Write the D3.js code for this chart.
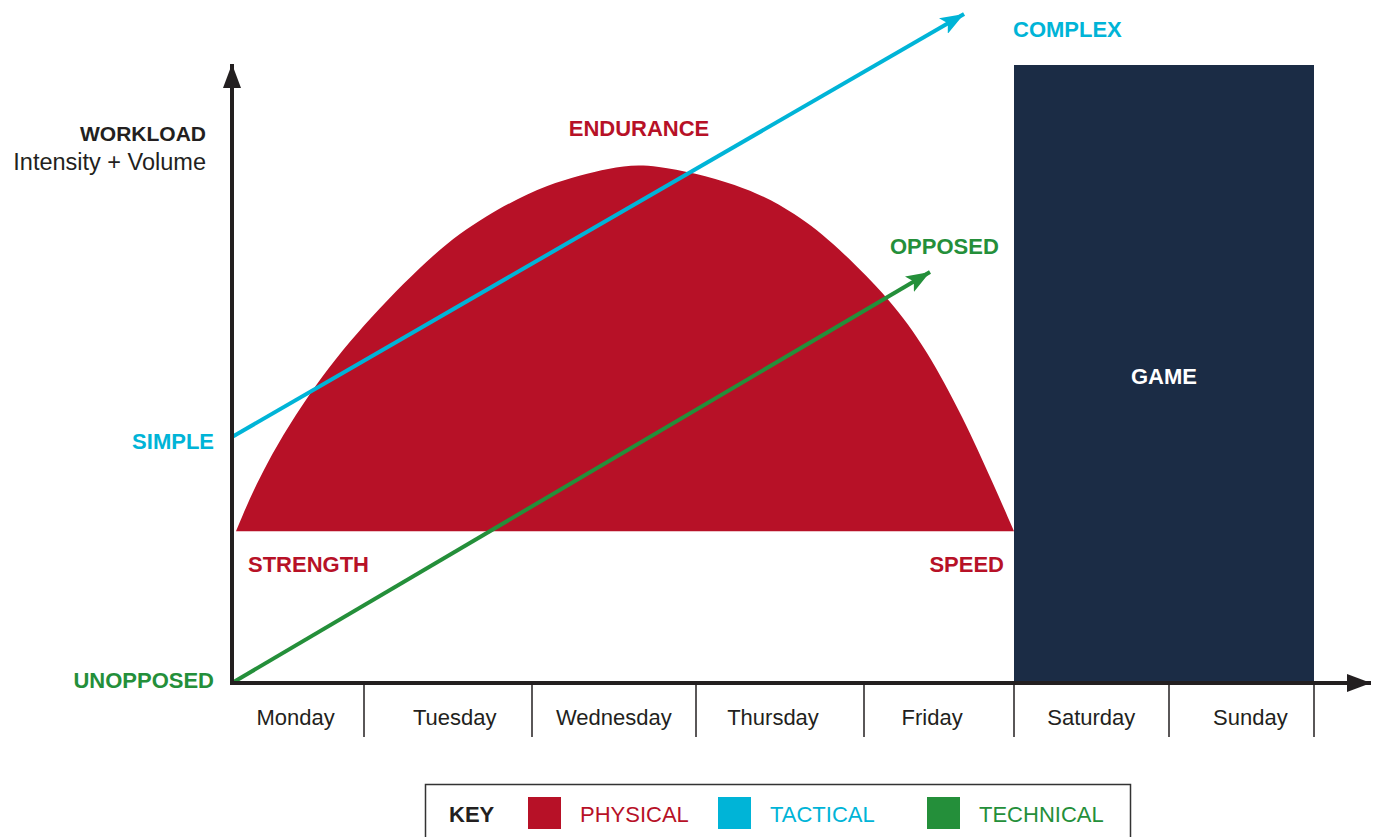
<!DOCTYPE html>
<html>
<head>
<meta charset="utf-8">
<script src="https://cdn.jsdelivr.net/npm/d3@7"></script>
<style>
  body { margin: 0; background: #fff; }
  svg text { font-family: 'Liberation Sans', Arial, sans-serif; }
</style>
</head>
<body>
<div id="chart"></div>
<script>
// days along the x axis
const days = ['Monday', 'Tuesday', 'Wednesday', 'Thursday', 'Friday', 'Saturday', 'Sunday']

// physical workload curve (day position, workload 0-100)
const physicalDay  = [0.03, 0.235, 0.63, 1.036, 1.435, 1.708, 2.091, 2.494, 2.72, 3.262, 3.601, 3.839, 4.173, 4.42, 4.66, 4.86, 5.0]
const physicalLoad = [25.3, 36, 50, 61, 72.2, 77.7, 83.3, 86, 86.7, 83.3, 78.2, 72.8, 64, 55.5, 44.3, 33.3, 25.3]

// tactical line: simple -> complex
const tacticalDay  = [0, 4.667]
const tacticalLoad = [41, 111.5]

// technical line: unopposed -> opposed
const technicalDay  = [0, 4.44]
const technicalLoad = [0, 68.5]

// game block (days 5 to 7)
const gameDay  = [5, 7]
const gameLoad = 103

const legendItems = ['PHYSICAL', 'TACTICAL', 'TECHNICAL']

const RED = '#B71127'
const CYAN = '#00B4D7'
const GREEN = '#248F3A'
const NAVY = '#1B2C45'
const INK = '#231F20'

const svg = d3.select('#chart')
    .append('svg')
    .attr('width', 1376)
    .attr('height', 837)

// day columns are not equally wide in the original
const xScale = d3.scaleLinear()
    .domain(d3.range(0, 8))
    .range([232, 364, 532, 696, 864, 1014, 1169, 1314])
const yScale = d3.scaleLinear().domain([0, 100]).range([683, 83])
// the day names themselves sit on an even grid
const labelScale = d3.scaleBand().domain(days).range([216, 1330])

//arrow markers
const defs = svg.append('defs')
function addMarker(id, color, len, half) {
    defs.append('marker')
        .attr('id', id)
        .attr('markerUnits', 'userSpaceOnUse')
        .attr('viewBox', `0 ${-half} ${len} ${half * 2}`)
        .attr('refX', len)
        .attr('refY', 0)
        .attr('markerWidth', len)
        .attr('markerHeight', half * 2)
        .attr('orient', 'auto')
        .append('path')
        .attr('d', `M0,${-half} L${len},0 L0,${half} L${len * 0.22},0 Z`)
        .attr('fill', color)
}
addMarker('arrowCyan', CYAN, 24, 9)
addMarker('arrowGreen', GREEN, 24, 9)
defs.append('marker')
    .attr('id', 'arrowAxis')
    .attr('markerUnits', 'userSpaceOnUse')
    .attr('viewBox', '0 -10 24 20')
    .attr('refX', 24)
    .attr('refY', 0)
    .attr('markerWidth', 24)
    .attr('markerHeight', 20)
    .attr('orient', 'auto')
    .append('path')
    .attr('d', 'M0,-9 L24,0 L0,9 Z')
    .attr('fill', INK)

//game block
svg.append('rect')
    .attr('x', xScale(gameDay[0]))
    .attr('y', yScale(gameLoad))
    .attr('width', xScale(gameDay[1]) - xScale(gameDay[0]))
    .attr('height', yScale(0) - yScale(gameLoad))
    .attr('fill', NAVY)

svg.append('text')
    .attr('x', (xScale(gameDay[0]) + xScale(gameDay[1])) / 2)
    .attr('y', 384)
    .attr('text-anchor', 'middle')
    .style('font-size', '22px')
    .style('font-weight', 'bold')
    .attr('fill', '#fff')
    .text('GAME')

//physical area (b-spline keeps the dome smooth)
const physical = physicalDay.map((d, i) => ({ day: d, load: physicalLoad[i] }))
const area = d3.area()
    .x(d => xScale(d.day))
    .y0(yScale(physicalLoad[0]))
    .y1(d => yScale(d.load))
    .curve(d3.curveBasis)

svg.append('path')
    .datum(physical)
    .attr('fill', RED)
    .attr('d', area)

//tactical and technical lines
const line = d3.line()
    .x(d => xScale(d[0]))
    .y(d => yScale(d[1]))

svg.append('path')
    .datum(d3.zip(tacticalDay, tacticalLoad))
    .attr('fill', 'none')
    .attr('stroke', CYAN)
    .attr('stroke-width', 4)
    .attr('marker-end', 'url(#arrowCyan)')
    .attr('d', line)

svg.append('path')
    .datum(d3.zip(technicalDay, technicalLoad))
    .attr('fill', 'none')
    .attr('stroke', GREEN)
    .attr('stroke-width', 4)
    .attr('marker-end', 'url(#arrowGreen)')
    .attr('d', line)

//axes
svg.append('line')
    .attr('x1', xScale(0)).attr('y1', yScale(0) + 2)
    .attr('x2', xScale(0)).attr('y2', 64)
    .attr('stroke', INK)
    .attr('stroke-width', 4)
    .attr('marker-end', 'url(#arrowAxis)')

svg.append('line')
    .attr('x1', xScale(0) - 2).attr('y1', yScale(0))
    .attr('x2', 1371).attr('y2', yScale(0))
    .attr('stroke', INK)
    .attr('stroke-width', 4)
    .attr('marker-end', 'url(#arrowAxis)')

//day separators and labels
svg.selectAll('.sep')
    .data(days)
    .enter()
    .append('line')
    .attr('class', 'sep')
    .attr('x1', (d, i) => xScale(i + 1))
    .attr('x2', (d, i) => xScale(i + 1))
    .attr('y1', yScale(0))
    .attr('y2', 737)
    .attr('stroke', INK)
    .attr('stroke-width', 1.5)

svg.selectAll('.day')
    .data(days)
    .enter()
    .append('text')
    .attr('class', 'day')
    .attr('x', d => labelScale(d) + labelScale.bandwidth() / 2)
    .attr('y', 725)
    .attr('text-anchor', 'middle')
    .style('font-size', '22px')
    .attr('fill', INK)
    .text(d => d)

//y label
svg.append('text')
    .attr('x', 206).attr('y', 141)
    .attr('text-anchor', 'end')
    .style('font-size', '21px')
    .style('font-weight', 'bold')
    .attr('fill', INK)
    .text('WORKLOAD')

svg.append('text')
    .attr('x', 206).attr('y', 170)
    .attr('text-anchor', 'end')
    .style('font-size', '23.5px')
    .attr('fill', INK)
    .text('Intensity + Volume')

//annotations
function label(text, x, y, anchor, color) {
    svg.append('text')
        .attr('x', x).attr('y', y)
        .attr('text-anchor', anchor)
        .style('font-size', '22px')
        .style('font-weight', 'bold')
        .attr('fill', color)
        .text(text)
}
label('ENDURANCE', 639, 136, 'middle', RED)
label('STRENGTH', 248, 572, 'start', RED)
label('SPEED', 1004, 572, 'end', RED)
label('SIMPLE', 214, yScale(tacticalLoad[0]) + 12, 'end', CYAN)
label('COMPLEX', 1013, 37, 'start', CYAN)
label('UNOPPOSED', 214, 688, 'end', GREEN)
label('OPPOSED', 890, 254, 'start', GREEN)

//legend
const legend = svg.append('g')
legend.append('rect')
    .attr('x', 425.5).attr('y', 784.5)
    .attr('width', 705).attr('height', 70)
    .attr('fill', 'none')
    .attr('stroke', '#333')
    .attr('stroke-width', 1.5)

legend.append('text')
    .attr('x', 449).attr('y', 822)
    .style('font-size', '22px')
    .style('font-weight', 'bold')
    .attr('fill', INK)
    .text('KEY')

const legendColors = [RED, CYAN, GREEN]
const legendX = [528, 718, 927]
legend.selectAll('.sw')
    .data(legendItems)
    .enter()
    .append('rect')
    .attr('x', (d, i) => legendX[i])
    .attr('y', 797)
    .attr('width', 33)
    .attr('height', 32)
    .attr('fill', (d, i) => legendColors[i])

legend.selectAll('.lt')
    .data(legendItems)
    .enter()
    .append('text')
    .attr('x', (d, i) => legendX[i] + 52)
    .attr('y', 822)
    .style('font-size', '22px')
    .attr('fill', (d, i) => legendColors[i])
    .text(d => d)
</script>
</body>
</html>
